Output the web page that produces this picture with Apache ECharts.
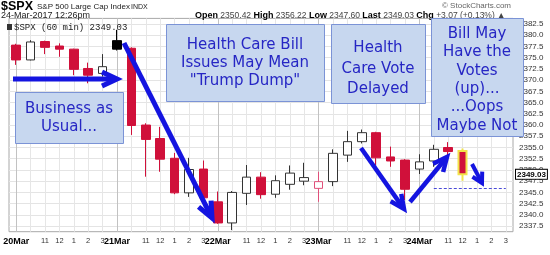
<!DOCTYPE html>
<html><head><meta charset="utf-8">
<script src="https://cdn.jsdelivr.net/npm/echarts@6/dist/echarts.min.js"></script>
<style>html,body{margin:0;padding:0;background:#fff}#c{width:550px;height:255px}</style>
</head><body><div id="c"></div><script>
// ---- data ----
const categories = [
 '03-20 09:30','03-20 10:30','03-20 11:30','03-20 12:30','03-20 13:30','03-20 14:30','03-20 15:30',
 '03-21 09:30','03-21 10:30','03-21 11:30','03-21 12:30','03-21 13:30','03-21 14:30','03-21 15:30',
 '03-22 09:30','03-22 10:30','03-22 11:30','03-22 12:30','03-22 13:30','03-22 14:30','03-22 15:30',
 '03-23 09:30','03-23 10:30','03-23 11:30','03-23 12:30','03-23 13:30','03-23 14:30','03-23 15:30',
 '03-24 09:30','03-24 10:30','03-24 11:30','03-24 12:30','03-24 13:30','03-24 14:30','03-24 15:30'
];
const tickLabels = [
 '20Mar','','11','12','1','2','3',
 '21Mar','','11','12','1','2','3',
 '22Mar','','11','12','1','2','3',
 '23Mar','','11','12','1','2','3',
 '24Mar','','11','12','1','2','3'
];
const opens  = [2377.8,2374.5,2378.6,2377.6,2376.9,2372.6,2371.5, 2378.8,2377.1,2360.0,2357.0,2352.6,2344.9,2350.2, 2342.9,2338.2,2344.8,2348.4,2344.6,2346.8,2347.5, 2345.9,2347.4,2353.3,2356.3,2358.3,2352.9,2352.2, 2350.2,2352.0,2355.0,2354.2];
const closes = [2374.5,2378.5,2377.3,2376.9,2372.4,2371.1,2373.0, 2376.9,2359.9,2356.8,2352.4,2344.9,2350.1,2343.8, 2338.2,2345.0,2348.4,2344.5,2347.6,2349.3,2348.3, 2347.4,2353.7,2356.3,2358.3,2352.7,2352.0,2345.7, 2351.8,2354.6,2354.1,2349.03];
const lows   = [2373.4,2374.4,2375.8,2375.2,2371.1,2369.3,2370.8, 2376.6,2357.8,2348.5,2349.6,2344.6,2344.0,2343.5, 2338.0,2336.6,2342.2,2343.6,2343.8,2345.6,2346.6, 2342.9,2346.4,2351.8,2355.9,2351.1,2350.7,2343.3, 2349.1,2350.7,2353.3,2347.6];
const highs  = [2378.1,2378.9,2378.8,2378.2,2377.0,2373.9,2375.8, 2381.2,2377.3,2360.4,2359.6,2353.8,2352.7,2352.1, 2345.2,2345.3,2351.1,2349.5,2348.8,2351.0,2351.6, 2349.6,2354.6,2358.7,2359.0,2358.5,2355.2,2352.4, 2353.5,2355.6,2356.2,2354.8];
const yMin = 2336.25, yMax = 2383.75, yStep = 1.25, yLabelStep = 2.5;
const lastPrice = 2349.03;
const dashedLevel = 2346.0, dashedFrom = '03-24 10:30', dashedTo = '03-24 15:30';
const blackBar = 7, pinkBar = 21, highlightBar = 31;

// ---- styles ----
const RED = '#d0103a', DARK = '#333', BLUE = '#1414e0';
const BOX_FILL = '#c7d7ef', BOX_STROKE = '#7b93d6', BOX_TEXT = '#2626c4';
const FONT = 'Liberation Sans, Arial, sans-serif';

const candleData = categories.map((c, i) => {
  if (i >= opens.length) return '-';
  const item = { value: [opens[i], closes[i], lows[i], highs[i]] };
  if (i === blackBar) item.itemStyle = { color0: '#000', borderColor0: '#000' };
  if (i === pinkBar) item.itemStyle = { color: '#fff', borderColor: '#e0507a' };
  if (i === highlightBar) item.itemStyle = { color0: RED, borderColor0: '#f2e34a', borderWidth: 2 };
  return item;
});

const vColors = ['#c2c2c2','#e6e6e6','#e6e6e6','#e6e6e6','#e6e6e6','#e6e6e6','#e6e6e6'];

function arrow(x1, y1, x2, y2, w, hl, hw) {
  const dx = x2 - x1, dy = y2 - y1, L = Math.hypot(dx, dy), ux = dx / L, uy = dy / L;
  const bx = x2 - ux * hl, by = y2 - uy * hl, px = -uy, py = ux;
  return [
    { type: 'polyline', z: 90, shape: { points: [[x1, y1], [x2 - ux * 2, y2 - uy * 2]] }, style: { stroke: BLUE, lineWidth: w, fill: null } },
    { type: 'polyline', z: 90, shape: { points: [[bx + px * hw, by + py * hw], [x2, y2], [bx - px * hw, by - py * hw]] }, style: { stroke: BLUE, lineWidth: w, fill: null, lineJoin: 'miter' } }
  ];
}
function box(x, y, w, h, text, cy, lh) {
  return [
    { type: 'rect', z: 100, shape: { x: x + 0.5, y: y + 0.5, width: w, height: h }, style: { fill: BOX_FILL, stroke: BOX_STROKE, lineWidth: 1 } },
    { type: 'text', z: 101, x: x + w / 2, y: cy, style: { text: text, font: '15px DejaVu Sans, Verdana, sans-serif', fill: BOX_TEXT, textAlign: 'center', textVerticalAlign: 'middle', lineHeight: lh } }
  ];
}

const graphics = [].concat(
  [
    { type: 'text', z: 50, x: 1, y: 7, style: { text: '$SPX', font: 'bold 12.5px ' + FONT, fill: '#000', textVerticalAlign: 'middle' } },
    { type: 'text', z: 50, x: 37, y: 7, style: { text: 'S&P 500 Large Cap Index', font: '8px ' + FONT, fill: '#222', textVerticalAlign: 'middle' } },
    { type: 'text', z: 50, x: 131, y: 7.5, style: { text: 'INDX', font: '7px ' + FONT, fill: '#222', textVerticalAlign: 'middle' } },
    { type: 'text', z: 50, x: 1, y: 16, style: { text: '24-Mar-2017 12:26pm', font: '9px ' + FONT, fill: '#222', textVerticalAlign: 'middle' } },
    { type: 'text', z: 50, x: 442, y: 6, style: { text: '\u00a9 StockCharts.com', font: '8px ' + FONT, fill: '#666', textVerticalAlign: 'middle' } },
    { type: 'text', z: 50, x: 195, y: 16, style: {
        text: '{b|Open} 2350.42 {b|High} 2356.22 {b|Low} 2347.60 {b|Last} 2349.03 {b|Chg} +3.07 (+0.13%) \u25b2',
        font: '8.5px ' + FONT, fill: '#444', textVerticalAlign: 'middle',
        rich: { b: { fontWeight: 'bold', fontSize: 9, fontFamily: FONT, fill: '#000' } } } },
    { type: 'rect', z: 50, shape: { x: 7, y: 24, width: 5, height: 6 }, style: { fill: '#333' } },
    { type: 'text', z: 50, x: 14, y: 27.5, style: { text: '$SPX (60 min) 2349.03', font: '9px Liberation Mono, DejaVu Sans Mono, monospace', fill: '#222', textVerticalAlign: 'middle' } }
  ],
  box(15, 92, 108, 51, 'Business as\nUsual...', 118, 18),
  box(166, 24, 158, 77, 'Health Care Bill\nIssues May Mean\n"Trump Dump"', 63.5, 18),
  box(331, 24, 94, 79, 'Health\nCare Vote\nDelayed', 69, 20.5),
  box(431, 18, 92, 118, 'Bill May\nHave the\nVotes\n(up)...\n...Oops\nMaybe Not', 80, 18.4),
  arrow(13, 79, 117, 79, 5, 15, 7),
  arrow(124, 43, 212, 218, 5, 16, 7),
  arrow(361, 148, 404, 209, 4.5, 14, 6.5),
  arrow(410, 202, 447, 157, 4.5, 14, 6.5),
  arrow(472, 164, 482, 183, 4, 10, 5.5)
);

const chart = echarts.init(document.getElementById('c'), null, { renderer: 'canvas' });
chart.setOption({
  animation: false,
  backgroundColor: '#fff',
  grid: { left: 9, right: 37, top: 18.4, bottom: 23.3, show: true, borderColor: '#a8a8a8', borderWidth: 1, backgroundColor: '#fff' },
  xAxis: {
    type: 'category', data: categories, boundaryGap: true,
    axisLine: { show: false }, axisTick: { show: false },
    splitLine: { show: true, alignWithLabel: true, interval: 0, lineStyle: { color: vColors, width: 1 } },
    axisLabel: {
      interval: 0, margin: 5, fontFamily: FONT,
      formatter: (v, i) => {
        const t = tickLabels[i];
        if (!t) return '';
        return /Mar/.test(t) ? '{d|' + t + '}' : '{h|' + t + '}';
      },
      rich: {
        d: { fontWeight: 'bold', fontSize: 9, color: '#000', fontFamily: FONT },
        h: { fontSize: 7.5, color: '#333', fontFamily: FONT }
      }
    }
  },
  yAxis: {
    type: 'value', position: 'right', min: yMin, max: yMax, interval: yStep, scale: true,
    axisLine: { show: false }, axisTick: { show: false },
    splitLine: { show: true, lineStyle: { color: ['rgba(0,0,0,0)', '#e4e4e4'], width: 1 } },
    axisLabel: {
      margin: 6, fontSize: 8, color: '#333', fontFamily: FONT,
      formatter: v => (Math.abs(v / yLabelStep - Math.round(v / yLabelStep)) < 1e-6 ? v.toFixed(1) : '')
    }
  },
  series: [
    {
      type: 'candlestick', data: candleData, barWidth: 9, z: 3,
      itemStyle: { color: '#fff', color0: RED, borderColor: DARK, borderColor0: RED, borderWidth: 1 }
    },
    {
      type: 'line', data: [], z: 2, symbol: 'none',
      markLine: {
        silent: true, symbol: ['none', 'none'], animation: false,
        lineStyle: { type: [3, 2], color: '#4a4ad8', width: 1 },
        label: { show: false },
        data: [[ { coord: [dashedFrom, dashedLevel] }, { coord: [dashedTo, dashedLevel] } ]]
      }
    },
    {
      type: 'line', data: [], z: 5, symbol: 'none',
      markLine: {
        silent: true, symbol: ['none', 'none'], animation: false,
        lineStyle: { color: 'rgba(0,0,0,0)', width: 1 },
        label: { show: true, position: 'end', distance: 3, formatter: lastPrice.toFixed(2), color: '#000', fontWeight: 'bold', fontSize: 8, fontFamily: FONT,
                 backgroundColor: '#fff', borderColor: '#000', borderWidth: 1, padding: [1, 1, 0, 1] },
        data: [ { yAxis: lastPrice } ]
      }
    }
  ],
  graphic: graphics
});
</script></body></html>
